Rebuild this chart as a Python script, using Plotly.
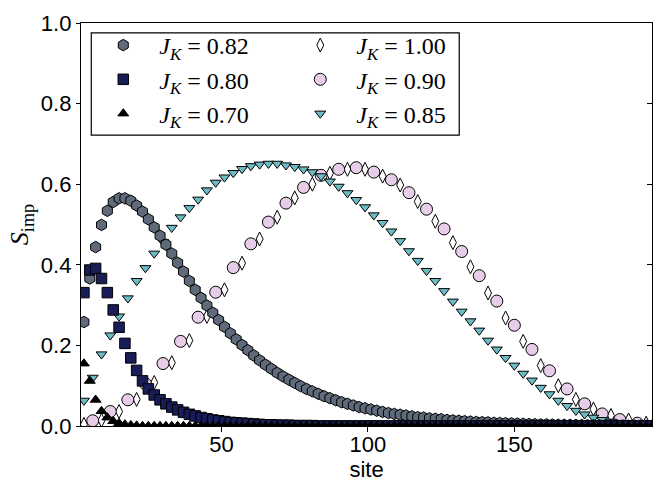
import plotly.graph_objects as go

# impurity entropy profiles, one list per coupling J_K
sites_082 = list(range(3, 198, 2))
s_imp_082 = [
    0.258, 0.366, 0.444, 0.499, 0.534, 0.556, 0.565, 0.565, 0.559, 0.547,
    0.532, 0.513, 0.493, 0.472, 0.450, 0.428, 0.405, 0.383, 0.360, 0.338,
    0.318, 0.299, 0.281, 0.263, 0.246, 0.230, 0.215, 0.201, 0.188, 0.175,
    0.163, 0.152, 0.142, 0.132, 0.123, 0.115, 0.107, 0.099, 0.092, 0.086,
    0.080, 0.074, 0.069, 0.064, 0.059, 0.055, 0.051, 0.047, 0.044, 0.041,
    0.038, 0.035, 0.032, 0.030, 0.028, 0.026, 0.024, 0.022, 0.021, 0.019,
    0.018, 0.017, 0.015, 0.014, 0.013, 0.012, 0.011, 0.010, 0.0095, 0.009,
    0.008, 0.0075, 0.007, 0.0065, 0.006, 0.0055, 0.005, 0.0045, 0.004, 0.004,
    0.0035, 0.003, 0.003, 0.0027, 0.0025, 0.0022, 0.002, 0.0018, 0.0016, 0.0015,
    0.0013, 0.0012, 0.001, 0.001, 0.0009, 0.0008, 0.0007, 0.0006,
]

sites_080 = list(range(3, 198, 2))
s_imp_080 = [
    0.331, 0.387, 0.391, 0.366, 0.331, 0.288, 0.245, 0.205, 0.169, 0.138,
    0.112, 0.092, 0.077, 0.065, 0.055, 0.047, 0.040, 0.034, 0.029, 0.025,
    0.021, 0.018, 0.015, 0.013, 0.011, 0.009, 0.008, 0.007, 0.006, 0.005,
    0.004, 0.003, 0.003, 0.002, 0.002, 0.002, 0.001, 0.001, 0.001, 0.001,
    0.0, 0.0, 0.0, 0.0, 0.0, 0.0, 0.0, 0.0, 0.0, 0.0,
    0.0, 0.0, 0.0, 0.0, 0.0, 0.0, 0.0, 0.0, 0.0, 0.0,
    0.0, 0.0, 0.0, 0.0, 0.0, 0.0, 0.0, 0.0, 0.0, 0.0,
    0.0, 0.0, 0.0, 0.0, 0.0, 0.0, 0.0, 0.0, 0.0, 0.0,
    0.0, 0.0, 0.0, 0.0, 0.0, 0.0, 0.0, 0.0, 0.0, 0.0,
    0.0, 0.0, 0.0, 0.0, 0.0, 0.0, 0.0, 0.0,
]

sites_070 = list(range(3, 198, 2))
s_imp_070 = [
    0.155, 0.112, 0.065, 0.037, 0.021, 0.012, 0.007, 0.004, 0.002, 0.001,
    0.0, 0.0, 0.0, 0.0, 0.0, 0.0, 0.0, 0.0, 0.0, 0.0,
    0.0, 0.0, 0.0, 0.0, 0.0, 0.0, 0.0, 0.0, 0.0, 0.0,
    0.0, 0.0, 0.0, 0.0, 0.0, 0.0, 0.0, 0.0, 0.0, 0.0,
    0.0, 0.0, 0.0, 0.0, 0.0, 0.0, 0.0, 0.0, 0.0, 0.0,
    0.0, 0.0, 0.0, 0.0, 0.0, 0.0, 0.0, 0.0, 0.0, 0.0,
    0.0, 0.0, 0.0, 0.0, 0.0, 0.0, 0.0, 0.0, 0.0, 0.0,
    0.0, 0.0, 0.0, 0.0, 0.0, 0.0, 0.0, 0.0, 0.0, 0.0,
    0.0, 0.0, 0.0, 0.0, 0.0, 0.0, 0.0, 0.0, 0.0, 0.0,
    0.0, 0.0, 0.0, 0.0, 0.0, 0.0, 0.0, 0.0,
]

sites_100 = list(range(3, 196, 6))
s_imp_100 = [
    0.004, 0.014, 0.036, 0.066, 0.108, 0.157, 0.212, 0.272, 0.338, 0.404,
    0.464, 0.518, 0.566, 0.600, 0.627, 0.637, 0.637, 0.620, 0.598, 0.557,
    0.508, 0.455, 0.395, 0.330, 0.268, 0.210, 0.150, 0.100, 0.066, 0.042,
    0.026, 0.015, 0.007,
]

sites_090 = list(range(6, 193, 6))
s_imp_090 = [
    0.013, 0.036, 0.065, 0.105, 0.155, 0.210, 0.270, 0.332, 0.393, 0.452,
    0.506, 0.553, 0.592, 0.622, 0.637, 0.641, 0.630, 0.611, 0.579, 0.538,
    0.489, 0.433, 0.373, 0.310, 0.250, 0.190, 0.137, 0.092, 0.055, 0.030,
    0.016, 0.007,
]

sites_085 = list(range(3, 196, 3))
s_imp_085 = [
    0.063, 0.120, 0.178, 0.225, 0.272, 0.317, 0.360, 0.392, 0.428, 0.457,
    0.492, 0.518, 0.541, 0.562, 0.585, 0.604, 0.617, 0.628, 0.638, 0.645,
    0.649, 0.651, 0.651, 0.647, 0.643, 0.637, 0.630, 0.620, 0.607, 0.594,
    0.578, 0.561, 0.543, 0.523, 0.504, 0.483, 0.459, 0.434, 0.410, 0.385,
    0.360, 0.335, 0.309, 0.284, 0.260, 0.237, 0.212, 0.190, 0.169, 0.150,
    0.130, 0.113, 0.095, 0.079, 0.063, 0.050, 0.038, 0.029, 0.021, 0.015,
    0.011, 0.008, 0.005, 0.003, 0.002,
]

for xs, ys in [(sites_082, s_imp_082), (sites_080, s_imp_080), (sites_070, s_imp_070),
               (sites_100, s_imp_100), (sites_090, s_imp_090), (sites_085, s_imp_085)]:
    assert len(xs) == len(ys), (len(xs), len(ys))

SERIF = "Liberation Serif"
SANS = "Liberation Sans"


def label(jk):
    return "<i>J</i><sub><i>K</i></sub> = " + jk


# drawn from largest J_K to smallest, so the short profiles sit on top
series = [
    ("1.00", sites_100, s_imp_100, "diamond-tall", "white", 10, "legend2"),
    ("0.90", sites_090, s_imp_090, "circle", "#e8cde8", 12, "legend2"),
    ("0.85", sites_085, s_imp_085, "triangle-down", "#6cbcc5", 9.5, "legend2"),
    ("0.82", sites_082, s_imp_082, "hexagon", "#5f6b7b", 11.5, "legend"),
    ("0.80", sites_080, s_imp_080, "square", "#181d58", 10.5, "legend"),
    ("0.70", sites_070, s_imp_070, "triangle-up", "black", 9.5, "legend"),
]

fig = go.Figure()
for jk, xs, ys, sym, col, size, leg in series:
    fig.add_trace(
        go.Scatter(
            x=xs,
            y=ys,
            mode="markers",
            name=label(jk),
            legend=leg,
            legendgroup=jk,
            marker=dict(symbol=sym, size=size, color=col,
                        line=dict(color="black", width=1)),
        )
    )

# right-hand spine carries inward ticks only
fig.add_trace(go.Scatter(x=[], y=[], yaxis="y2", showlegend=False))

legend_style = dict(
    font=dict(family=SERIF, size=24, color="black"),
    bgcolor="rgba(0,0,0,0)",
    borderwidth=0,
    tracegroupgap=2,
    itemwidth=62,
    xanchor="left",
    yanchor="top",
    traceorder="normal",
)

fig.update_layout(
    width=664,
    height=492,
    margin=dict(l=81, r=11, t=19, b=66),
    paper_bgcolor="white",
    plot_bgcolor="white",
    font=dict(family=SANS, size=22, color="black"),
    legend=dict(x=0.011, y=1.0, **legend_style),
    legend2=dict(x=0.356, y=1.0, **legend_style),
    shapes=[
        dict(type="rect", xref="paper", yref="paper",
             x0=0.018, x1=0.6624, y0=0.722, y1=0.9754,
             line=dict(color="black", width=1.2), fillcolor="white", layer="above")
    ],
    xaxis=dict(
        range=[2, 197],
        tickvals=[50, 100, 150],
        ticks="outside",
        ticklen=5,
        tickwidth=1,
        tickcolor="black",
        ticklabelstandoff=-7,
        showline=True,
        linecolor="black",
        linewidth=1.3,
        mirror=True,
        showgrid=False,
        zeroline=False,
        tickfont=dict(family=SANS, size=22),
        title=dict(text="site", font=dict(family=SANS, size=22), standoff=6),
    ),
    yaxis=dict(
        range=[0, 1],
        tickvals=[0, 0.2, 0.4, 0.6, 0.8, 1.0],
        ticktext=["0.0", "0.2", "0.4", "0.6", "0.8", "1.0"],
        ticks="outside",
        ticklen=4,
        tickwidth=1,
        tickcolor="black",
        showline=True,
        linecolor="black",
        linewidth=1.3,
        mirror=True,
        showgrid=False,
        zeroline=False,
        tickfont=dict(family=SANS, size=22),
        title=dict(text="<i>S</i><sub>imp</sub>", font=dict(family=SERIF, size=26), standoff=4),
    ),
    yaxis2=dict(
        overlaying="y",
        side="right",
        range=[0, 1],
        tickvals=[0, 0.2, 0.4, 0.6, 0.8, 1.0],
        ticks="inside",
        ticklen=5,
        tickwidth=1,
        tickcolor="black",
        showticklabels=False,
        showline=False,
        showgrid=False,
        zeroline=False,
    ),
)

# the page body keeps its default 8px margin otherwise
fig.write_html(
    "out.html",
    config={"displayModeBar": False},
    post_script="document.body.style.margin = '0';",
)
